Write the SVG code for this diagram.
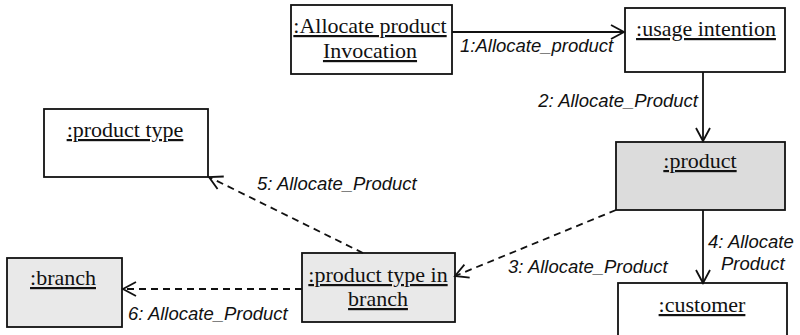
<svg xmlns="http://www.w3.org/2000/svg" width="800" height="335" viewBox="0 0 800 335">
  <style>
    .box { stroke: #111; stroke-width: 1.8; }
    .plain { fill: #ffffff; }
    .shade { fill: #dcdcdc; }
    .shade-light { fill: #e9e9e9; }
    .obj { font-family: "Liberation Serif", "Times New Roman", serif; font-size: 22px; fill: #111; text-anchor: middle; text-decoration: underline; }
    .msg { font-family: "Liberation Sans", Arial, sans-serif; font-size: 18.5px; font-style: italic; fill: #111; }
    .link { stroke: #111; stroke-width: 1.8; fill: none; }
    .dash { stroke-dasharray: 7 5; }
  </style>
  <defs>
    <marker id="open" markerUnits="userSpaceOnUse" markerWidth="16" markerHeight="16" viewBox="0 0 16 16" refX="14" refY="8" orient="auto">
      <path d="M1,1 L14,8 L1,15" fill="none" stroke="#111" stroke-width="1.8"/>
    </marker>
  </defs>

  <rect width="800" height="335" fill="#ffffff"/>

  <g id="node-invocation">
    <rect class="box plain" x="291" y="5" width="161" height="69"/>
    <text class="obj" x="370" y="33">:Allocate product</text>
    <text class="obj" x="370" y="58">Invocation</text>
  </g>

  <g id="node-usage-intention">
    <rect class="box plain" x="625" y="8" width="160" height="64"/>
    <text class="obj" x="706" y="36">:usage intention</text>
  </g>

  <g id="node-product">
    <rect class="box shade" x="616" y="142" width="169" height="68"/>
    <text class="obj" x="700" y="168">:product</text>
  </g>

  <g id="node-customer">
    <rect class="box plain" x="618" y="283" width="169" height="60"/>
    <text class="obj" x="702" y="312">:customer</text>
  </g>

  <g id="node-product-type">
    <rect class="box plain" x="44" y="109" width="164" height="68"/>
    <text class="obj" x="125" y="137">:product type</text>
  </g>

  <g id="node-product-type-in-branch">
    <rect class="box shade-light" x="302" y="253" width="153" height="69"/>
    <text class="obj" x="378" y="282">:product type in</text>
    <text class="obj" x="378" y="306">branch</text>
  </g>

  <g id="node-branch">
    <rect class="box shade-light" x="7" y="258" width="115" height="69"/>
    <text class="obj" x="63" y="285">:branch</text>
  </g>

  <g id="connectors">
    <line class="link" x1="452" y1="32" x2="624" y2="32" marker-end="url(#open)"/>
    <text class="msg" x="460" y="52">1:Allocate_product</text>

    <line class="link" x1="703" y1="72" x2="703" y2="141" marker-end="url(#open)"/>
    <text class="msg" x="698" y="107" text-anchor="end">2: Allocate_Product</text>

    <line class="link dash" x1="616" y1="210" x2="455" y2="276" marker-end="url(#open)"/>
    <text class="msg" x="508" y="273">3: Allocate_Product</text>

    <line class="link" x1="703" y1="210" x2="703" y2="283" marker-end="url(#open)"/>
    <text class="msg" x="708" y="248">4: Allocate</text>
    <text class="msg" x="721" y="270">Product</text>

    <line class="link dash" x1="363" y1="253" x2="209" y2="177" marker-end="url(#open)"/>
    <text class="msg" x="257" y="190">5: Allocate_Product</text>

    <line class="link dash" x1="302" y1="289" x2="123" y2="289" marker-end="url(#open)"/>
    <text class="msg" x="128" y="320">6: Allocate_Product</text>
  </g>
</svg>
